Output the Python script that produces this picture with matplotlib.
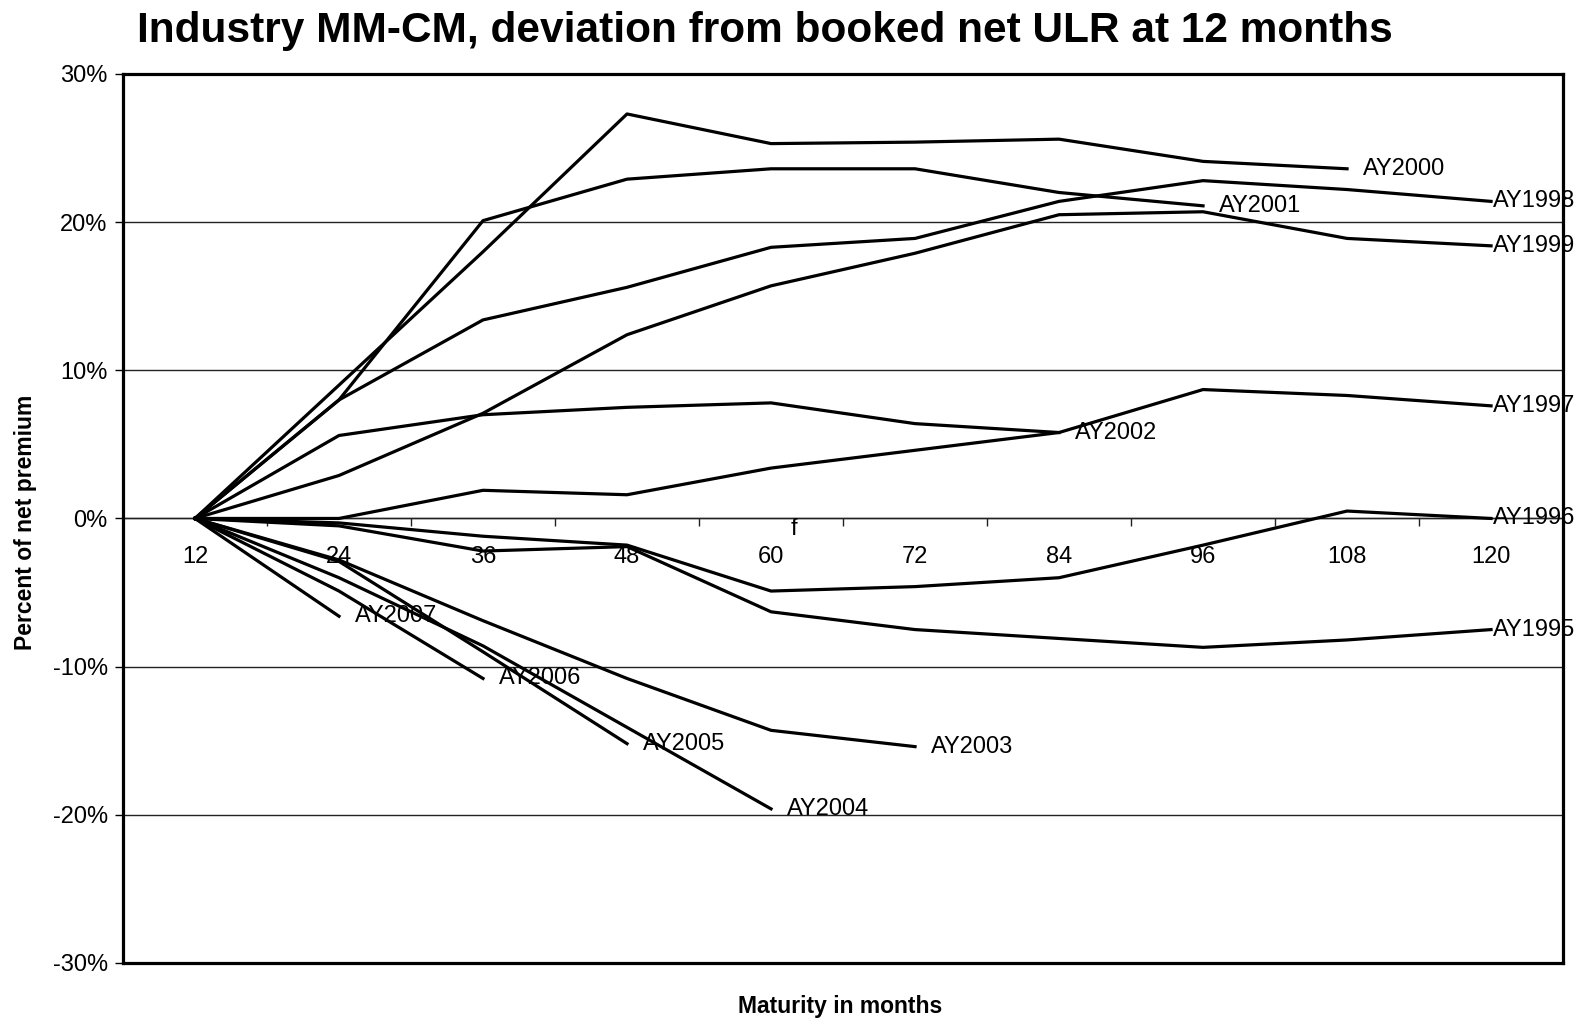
import numpy as np
import matplotlib
matplotlib.use("Agg")
import matplotlib.pyplot as plt
from matplotlib.ticker import FuncFormatter

plt.rcParams['font.family'] = ['Liberation Sans', 'DejaVu Sans']

maturity = ['12', '24', '36', '48', '60', '72', '84', '96', '108', '120']

# deviation from booked net ULR, percent of net premium
ay1995 = [0, -0.5, -2.2, -1.9, -6.3, -7.5, -8.1, -8.7, -8.2, -7.5]
ay1996 = [0, -0.3, -1.2, -1.8, -4.9, -4.6, -4.0, -1.8, 0.5, 0.0]
ay1997 = [0, 0.0, 1.9, 1.6, 3.4, 4.6, 5.8, 8.7, 8.3, 7.6]
ay1998 = [0, 8.0, 13.4, 15.6, 18.3, 18.9, 21.4, 22.8, 22.2, 21.4]
ay1999 = [0, 2.9, 7.1, 12.4, 15.7, 17.9, 20.5, 20.7, 18.9, 18.4]
ay2000 = [0, 9.0, 18.0, 27.3, 25.3, 25.4, 25.6, 24.1, 23.6]
ay2001 = [0, 8.0, 20.1, 22.9, 23.6, 23.6, 22.0, 21.1]
ay2002 = [0, 5.6, 7.0, 7.5, 7.8, 6.4, 5.8]
ay2003 = [0, -2.8, -6.9, -10.8, -14.3, -15.4]
ay2004 = [0, -4.0, -8.6, -14.1, -19.6]
ay2005 = [0, -2.9, -9.0, -15.2]
ay2006 = [0, -4.9, -10.8]
ay2007 = [0, -6.6]

series_names = ['AY1995', 'AY1996', 'AY1997', 'AY1998', 'AY1999', 'AY2000',
                'AY2001', 'AY2002', 'AY2003', 'AY2004', 'AY2005', 'AY2006',
                'AY2007']
series_values = [ay1995, ay1996, ay1997, ay1998, ay1999, ay2000, ay2001,
                 ay2002, ay2003, ay2004, ay2005, ay2006, ay2007]

FS = 17

fig = plt.figure(figsize=(15.83, 10.23), dpi=100)
ax = fig.add_axes([0.0777, 0.0587, 0.9097, 0.869])

for name, vals in zip(series_names, series_values):
    xs = np.arange(len(vals))
    ax.plot(xs, vals, color='black', lw=2.3, zorder=3)
    off = 2 if xs[-1] == len(maturity) - 1 else 16
    ax.annotate(name, (xs[-1], vals[-1]), xytext=(off, 0),
                textcoords='offset pixels', ha='left', va='center',
                fontsize=FS, annotation_clip=False, zorder=2)

ax.text(4.16, -0.72, 'f', fontsize=FS, ha='center', va='center')

ax.set_xlim(-0.5, len(maturity) - 0.5)
ax.set_ylim(-30, 30)
ax.set_xticks([])
ax.set_yticks(range(-30, 31, 10))
ax.yaxis.set_major_formatter(FuncFormatter(lambda v, p: f"{v:.0f}%"))
ax.tick_params(axis='y', length=6, width=1, labelsize=FS, pad=5)
ax.yaxis.grid(True, color='#222222', lw=1)
ax.set_axisbelow(True)
for sp in ax.spines.values():
    sp.set_linewidth(2.3)
    sp.set_zorder(5)

# category axis crossing at 0%
sec = ax.secondary_xaxis(0, transform=ax.transData)
sec.set_xticks(range(len(maturity)), labels=maturity)
sec.set_xticks(np.arange(0.5, len(maturity) - 1), minor=True)
sec.tick_params(axis='x', which='major', length=0, pad=20, labelsize=FS)
sec.tick_params(axis='x', which='minor', length=6, width=1,
                direction='out', color='#222222')
sec.spines['bottom'].set_color('#222222')
sec.spines['bottom'].set_linewidth(1)

fig.text(0.483, 0.970,
         'Industry MM-CM, deviation from booked net ULR at 12 months',
         fontsize=30.5, fontweight='bold', ha='center', va='center')
fig.text(0.016, 0.489, 'Percent of net premium', fontsize=16.5,
         fontweight='bold', rotation=90, ha='center', va='center')
fig.text(0.531, 0.016, 'Maturity in months', fontsize=16.5,
         fontweight='bold', ha='center', va='center')

fig.savefig('out.png', dpi=100)
